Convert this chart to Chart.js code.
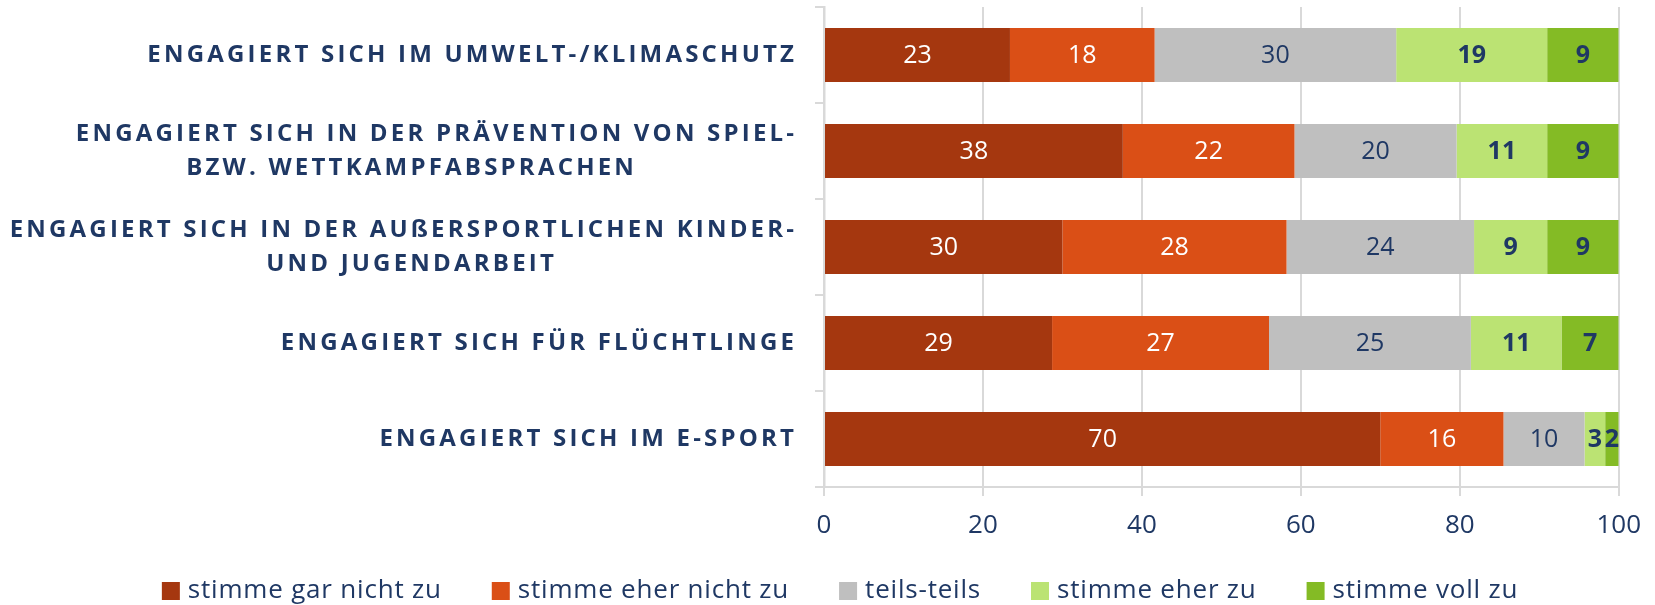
<!DOCTYPE html>
<html><head><meta charset="utf-8">
<script src="https://cdn.jsdelivr.net/npm/chart.js@4/dist/chart.umd.min.js"></script>
<style>html,body{margin:0;padding:0;background:#fff;} #wrap{width:1655px;height:605px;position:relative;}</style>
</head><body><div id="wrap"><canvas id="c" width="1655" height="605"></canvas></div>
<script>
// ---- data ----
const categories = [
  ['ENGAGIERT SICH IM UMWELT-/KLIMASCHUTZ'],
  ['ENGAGIERT SICH IN DER PRÄVENTION VON SPIEL-', 'BZW. WETTKAMPFABSPRACHEN'],
  ['ENGAGIERT SICH IN DER AUßERSPORTLICHEN KINDER-', 'UND JUGENDARBEIT'],
  ['ENGAGIERT SICH FÜR FLÜCHTLINGE'],
  ['ENGAGIERT SICH IM E-SPORT']
];
const seriesNames = ['stimme gar nicht zu', 'stimme eher nicht zu', 'teils-teils', 'stimme eher zu', 'stimme voll zu'];
const garNichtZu  = [23.4, 37.6, 30.0, 28.7, 70.0];
const eherNichtZu = [18.2, 21.6, 28.2, 27.3, 15.5];
const teilsTeils  = [30.4, 20.4, 23.6, 25.4, 10.2];
const eherZu      = [19.0, 11.4, 9.2, 11.4, 2.6];
const vollZu      = [9.0, 9.0, 9.0, 7.2, 1.7];
const xTickValues = [0, 20, 40, 60, 80, 100];

// ---- styles ----
const NAVY = '#1F3864';
const GRID = '#D9D9D9';
const FONT = "'Open Sans', 'Liberation Sans', sans-serif";
const barColors = ['#A5370F', '#DA4F16', '#BFBFBF', '#BBE373', '#84BB25'];
const valueColors = ['#FFFFFF', '#FFFFFF', NAVY, NAVY, NAVY];
const valueWeights = ['normal', 'normal', 'normal', 'bold', 'bold'];

const seriesValues = [garNichtZu, eherNichtZu, teilsTeils, eherZu, vollZu];

const textPlugin = {
  id: 'textPlugin',
  afterDatasetsDraw(chart) {
    const ctx = chart.ctx;
    ctx.save();
    ctx.textAlign = 'center';
    ctx.textBaseline = 'middle';
    chart.data.datasets.forEach((ds, di) => {
      const meta = chart.getDatasetMeta(di);
      ctx.font = valueWeights[di] + ' 25px ' + FONT;
      ctx.fillStyle = valueColors[di];
      meta.data.forEach((bar, i) => {
        const p = bar.getProps(['x', 'base', 'y'], true);
        const cx = (p.x + p.base) / 2;
        ctx.fillText(String(Math.round(ds.data[i])), cx, p.y + 1);
      });
    });
    ctx.restore();
  },
  afterDraw(chart) {
    const ctx = chart.ctx;
    const yScale = chart.scales.y;
    // category labels
    ctx.save();
    ctx.font = 'bold 24px ' + FONT;
    ctx.fillStyle = NAVY;
    ctx.textBaseline = 'middle';
    const sp = 3.2;
    ctx.letterSpacing = sp + 'px';
    const rightX = 794 + sp;
    const lineH = 34;
    categories.forEach((lines, i) => {
      const yc = yScale.getPixelForValue(i);
      const y0 = yc - (lines.length - 1) * lineH / 2;
      lines.forEach((t, li) => {
        if (li === 0) {
          ctx.textAlign = 'right';
          ctx.fillText(t, rightX, y0 + li * lineH);
        } else {
          ctx.textAlign = 'center';
          ctx.fillText(t, 410 + sp / 2, y0 + li * lineH);
        }
      });
    });
    ctx.restore();

    // legend
    ctx.save();
    ctx.font = '26px ' + FONT;
    ctx.letterSpacing = '0.8px';
    ctx.textBaseline = 'middle';
    ctx.textAlign = 'left';
    const box = 18, gapText = 8, gapItem = 50;
    const items = chart.data.datasets.map(d => ({ label: d.label, color: d.backgroundColor, w: ctx.measureText(d.label).width }));
    const total = items.reduce((s, it) => s + box + gapText + it.w, 0) + gapItem * (items.length - 1);
    let x = 840 - total / 2;
    const yMid = 591;
    items.forEach(it => {
      ctx.fillStyle = it.color;
      ctx.fillRect(x, yMid - box / 2, box, box);
      ctx.fillStyle = NAVY;
      ctx.fillText(it.label, x + box + gapText, yMid);
      x += box + gapText + it.w + gapItem;
    });
    ctx.restore();
  }
};

new Chart(document.getElementById('c'), {
  type: 'bar',
  data: {
    labels: categories,
    datasets: seriesNames.map((n, i) => ({
      label: n,
      data: seriesValues[i],
      backgroundColor: barColors[i],
      borderWidth: 0,
      barPercentage: 0.5625,
      categoryPercentage: 1
    }))
  },
  options: {
    indexAxis: 'y',
    responsive: false,
    devicePixelRatio: 1,
    animation: false,
    layout: { padding: { top: 7, right: 36, left: 0, bottom: 0 } },
    plugins: { legend: { display: false }, tooltip: { enabled: false } },
    scales: {
      x: {
        type: 'linear', stacked: true, min: 0, max: 100,
        afterBuildTicks: s => { s.ticks = xTickValues.map(v => ({ value: v })); },
        ticks: { color: NAVY, font: { family: FONT, size: 26 }, padding: 14 },
        grid: { color: GRID, lineWidth: 2, tickLength: 9, tickColor: GRID },
        border: { color: GRID, width: 2 },
        afterFit: s => { s.height = 118; }
      },
      y: {
        stacked: true,
        ticks: { display: false },
        grid: { drawOnChartArea: false, color: GRID, lineWidth: 2, tickLength: 9, offset: true },
        border: { color: GRID, width: 2.5 },
        afterFit: s => { s.width = 824; }
      }
    }
  },
  plugins: [textPlugin]
});
</script>
</body></html>
